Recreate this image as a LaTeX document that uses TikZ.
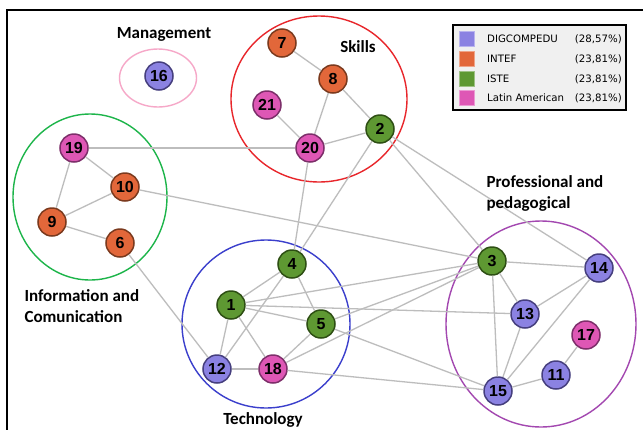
\documentclass[tikz,border=0pt]{standalone}
\usepackage{fontspec}
\setmainfont{Liberation Sans}
\newfontfamily\labelfont{Carlito}
\newfontfamily\legendfont{DejaVu Sans}

\definecolor{digcfill}{HTML}{8B82E2}
\definecolor{digcline}{HTML}{463F7E}
\definecolor{inteffill}{HTML}{E2673A}
\definecolor{intefline}{HTML}{7B3A1E}
\definecolor{istefill}{HTML}{5E9832}
\definecolor{isteline}{HTML}{2E4F14}
\definecolor{latamfill}{HTML}{DE57B5}
\definecolor{latamline}{HTML}{7D2F6A}
\definecolor{linkgray}{HTML}{BDBDBD}
\definecolor{mgmtring}{HTML}{F6A8C8}
\definecolor{skillring}{HTML}{E8262B}
\definecolor{inforing}{HTML}{1DB54A}
\definecolor{techring}{HTML}{3B3FCC}
\definecolor{profring}{HTML}{A348B0}
\definecolor{legendgray}{HTML}{F0F0F0}

\begin{document}
\begin{tikzpicture}[x=1pt, y=-1pt, every node/.style={font=\small}]
    % Styles
    \tikzstyle{comp} = [circle, minimum size=28pt, inner sep=0pt, line width=1.5pt, font=\fontsize{16}{16}\selectfont\bfseries]
    \tikzstyle{digc} = [comp, fill=digcfill, draw=digcline]
    \tikzstyle{intef} = [comp, fill=inteffill, draw=intefline]
    \tikzstyle{iste} = [comp, fill=istefill, draw=isteline]
    \tikzstyle{latam} = [comp, fill=latamfill, draw=latamline]
    \tikzstyle{link} = [draw=linkgray, line width=1.3pt]
    \tikzstyle{group} = [line width=1.4pt]
    \tikzstyle{caption} = [font=\labelfont\fontsize{17}{21}\selectfont\bfseries, align=left]
    \tikzstyle{swatch} = [rectangle, minimum size=15pt, inner sep=0pt, line width=0.8pt]
    \tikzstyle{entry} = [font=\legendfont\fontsize{10.2}{12}\selectfont, inner sep=0pt]

    \useasboundingbox (0,0) rectangle (643,429);
    \fill [white] (0,0) rectangle (643,429);

    % Frame
    \draw [line width=2.2pt] (7,434) -- (7,10) -- (648,10);

    % Groups
    \draw [group, draw=mgmtring] (158,78) ellipse [x radius=38.5pt, y radius=29pt];
    \draw [group, draw=skillring] (319,99) ellipse [x radius=88pt, y radius=83pt];
    \draw [group, draw=inforing] (90,197) ellipse [x radius=77pt, y radius=83pt];
    \draw [group, draw=techring] (266,324) ellipse [x radius=84pt, y radius=84pt];
    \draw [group, draw=profring] (541,324) ellipse [x radius=95pt, y radius=103pt];

    % Nodes
    \node (n16) [digc] at (159,76) {16};
    \node (n7)  [intef] at (282,43) {7};
    \node (n8)  [intef] at (333,79) {8};
    \node (n21) [latam] at (267,105) {21};
    \node (n20) [latam] at (310,148) {20};
    \node (n2)  [iste] at (380,129) {2};
    \node (n19) [latam] at (74,148) {19};
    \node (n10) [intef] at (125,187) {10};
    \node (n9)  [intef] at (52,222) {9};
    \node (n6)  [intef] at (120,243) {6};
    \node (n4)  [iste] at (292,264) {4};
    \node (n1)  [iste] at (231,305) {1};
    \node (n5)  [iste] at (321,324) {5};
    \node (n12) [digc] at (217,369) {12};
    \node (n18) [latam] at (273,369) {18};
    \node (n3)  [iste] at (492,261) {3};
    \node (n14) [digc] at (599,268) {14};
    \node (n13) [digc] at (525,314) {13};
    \node (n17) [latam] at (586,335) {17};
    \node (n11) [digc] at (556,375) {11};
    \node (n15) [digc] at (498,391) {15};

    % Links
    \draw [link] (n7) -- (n8);
    \draw [link] (n8) -- (n20);
    \draw [link] (n8) -- (n2);
    \draw [link] (n21) -- (n20);
    \draw [link] (n20) -- (n2);
    \draw [link] (n19) -- (n20);
    \draw [link] (n19) -- (n10);
    \draw [link] (n19) -- (n9);
    \draw [link] (n10) -- (n9);
    \draw [link] (n9) -- (n6);
    \draw [link] (n10) -- (n3);
    \draw [link] (n6) -- (n12);
    \draw [link] (n20) -- (n4);
    \draw [link] (n2) -- (n4);
    \draw [link] (n2) -- (n3);
    \draw [link] (n2) -- (n14);
    \draw [link] (n4) -- (n1);
    \draw [link] (n4) -- (n5);
    \draw [link] (n4) -- (n12);
    \draw [link] (n1) -- (n3);
    \draw [link] (n1) -- (n13);
    \draw [link] (n1) -- (n5);
    \draw [link] (n1) -- (n12);
    \draw [link] (n1) -- (n18);
    \draw [link] (n5) -- (n3);
    \draw [link] (n5) -- (n18);
    \draw [link] (n5) -- (n15);
    \draw [link] (n18) -- (n3);
    \draw [link] (n18) -- (n15);
    \draw [link] (n12) -- (n18);
    \draw [link] (n3) -- (n14);
    \draw [link] (n3) -- (n13);
    \draw [link] (n3) -- (n15);
    \draw [link] (n13) -- (n14);
    \draw [link] (n13) -- (n15);
    \draw [link] (n14) -- (n15);
    \draw [link] (n15) -- (n11);
    \draw [link] (n11) -- (n17);

    % Captions
    \node [caption] at (164,34) {Management};
    \node [caption] at (358,47) {Skills};
    \node [caption, anchor=west] at (483,193) {Professional and\\pedagogical};
    \node [caption, anchor=west] at (21,306) {Information and\\Comunication};
    \node [caption] at (263,420) {Technology};

    % Legend
    \draw [fill=legendgray, line width=2pt] (453,25) rectangle (626,110);
    \node (sw1) [swatch, fill=digcfill, draw=digcfill!60] at (467,39) {};
    \node (sw2) [swatch, fill=inteffill, draw=inteffill!60] at (467,59) {};
    \node (sw3) [swatch, fill=istefill, draw=istefill!60] at (467,79) {};
    \node (sw4) [swatch, fill=latamfill, draw=latamfill!60] at (467,98) {};
    \node (lb1) [entry, anchor=west] at (487,39) {DIGCOMPEDU};
    \node (lb2) [entry, anchor=west] at (487,59) {INTEF};
    \node (lb3) [entry, anchor=west] at (487,79) {ISTE};
    \node (lb4) [entry, anchor=west] at (487,98) {Latin American};
    \node (pc1) [entry, anchor=east] at (622,39) {(28,57\%)};
    \node (pc2) [entry, anchor=east] at (622,59) {(23,81\%)};
    \node (pc3) [entry, anchor=east] at (622,79) {(23,81\%)};
    \node (pc4) [entry, anchor=east] at (622,98) {(23,81\%)};
\end{tikzpicture}
\end{document}
